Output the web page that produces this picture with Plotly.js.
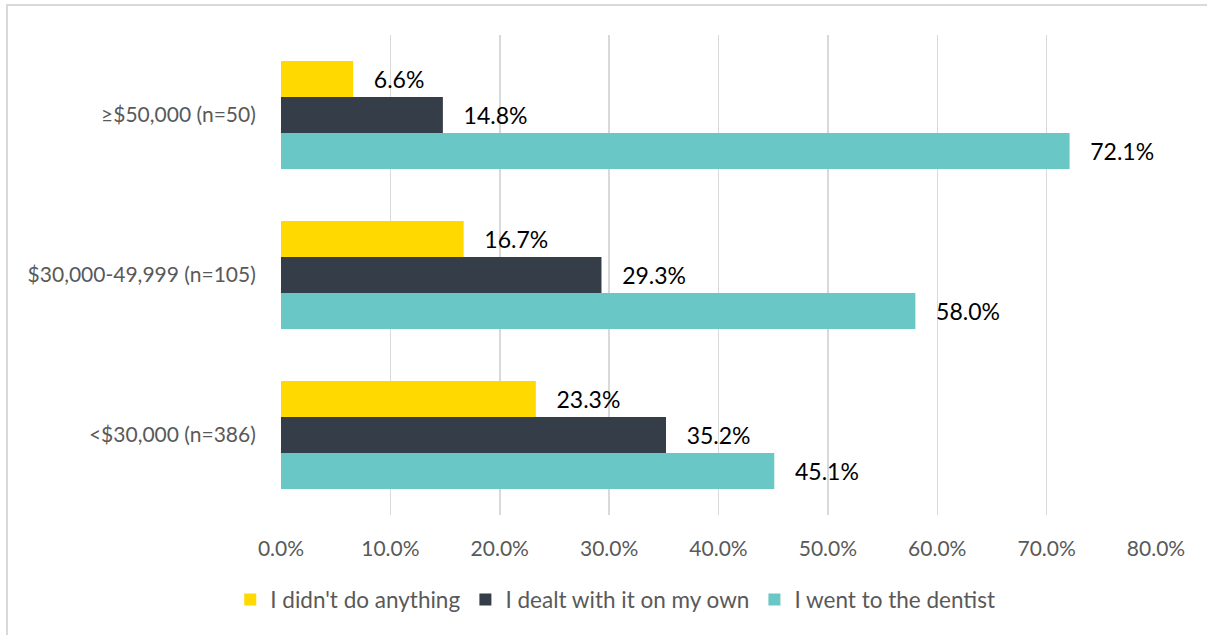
<!DOCTYPE html>
<html>
<head>
<meta charset="utf-8">
<script src="https://cdn.plot.ly/plotly-3.0.1.min.js"></script>
<style>
html,body{margin:0;padding:0;background:#fff;}
#wrap{position:relative;width:1207px;height:635px;overflow:hidden;}
#chart{width:1207px;height:635px;}
#frame{position:absolute;left:6px;top:4px;width:1300px;height:700px;border-left:2px solid #D9D9D9;border-top:2px solid #D9D9D9;pointer-events:none;}
</style>
</head>
<body>
<div id="wrap"><div id="chart"></div><div id="frame"></div></div>
<script>
const categories = ['≥$50,000 (n=50)', '$30,000-49,999 (n=105)', '<$30,000 (n=386)'];
const seriesNames = ["I didn't do anything", 'I dealt with it on my own', 'I went to the dentist'];
const didNothing = [6.6, 16.7, 23.3];
const onMyOwn = [14.8, 29.3, 35.2];
const wentDentist = [72.1, 58.0, 45.1];
const xTickValues = [0, 10, 20, 30, 40, 50, 60, 70, 80];
const xTickLabels = xTickValues.map(v => v.toFixed(1) + '%');

const colors = ['#FFD900', '#343D48', '#69C8C6'];
const values = [didNothing, onMyOwn, wentDentist];

const traces = values.map((v, i) => ({
  type: 'bar',
  orientation: 'h',
  name: seriesNames[i],
  legendgroup: 'g' + i,
  y: categories,
  x: v,
  marker: {color: colors[i], line: {width: 0}},
  texttemplate: '\u00a0\u00a0\u00a0%{x:.1f}%',
  textposition: 'outside',
  constraintext: 'none',
  cliponaxis: false,
  textfont: {family: 'Lato, sans-serif', size: 23, color: '#000000'},
  hoverinfo: 'none'
}));

const layout = {
  width: 1207, height: 635,
  paper_bgcolor: '#ffffff', plot_bgcolor: '#ffffff',
  margin: {l: 281, r: 51, t: 35, b: 120},
  barmode: 'group',
  bargap: 0.325,
  bargroupgap: 0,
  font: {family: 'Lato, sans-serif', color: '#595959'},
  xaxis: {
    range: [0, 80],
    tickmode: 'array',
    tickvals: xTickValues,
    ticktext: xTickLabels,
    showgrid: true, gridcolor: '#D9D9D9', gridwidth: 1.5,
    zeroline: false, showline: false,
    ticks: 'outside', ticklen: 15, tickcolor: 'rgba(0,0,0,0)',
    tickfont: {family: 'Lato, sans-serif', size: 21, color: '#595959'},
    fixedrange: true
  },
  yaxis: {
    autorange: 'reversed',
    type: 'category',
    showgrid: false, zeroline: false, showline: false,
    ticks: 'outside', ticklen: 20, tickcolor: 'rgba(0,0,0,0)',
    tickfont: {family: 'Lato, sans-serif', size: 21, color: '#595959'},
    fixedrange: true
  },
  showlegend: true,
  legend: {
    orientation: 'h',
    xref: 'paper', yref: 'paper',
    x: 0.382, xanchor: 'center',
    y: -0.177, yanchor: 'middle',
    font: {family: 'Lato, sans-serif', size: 22.5, color: '#595959'},
    itemwidth: 30,
    traceorder: 'grouped',
    tracegroupgap: 24
  }
};

Plotly.newPlot('chart', traces, layout, {displayModeBar: false, staticPlot: true});
</script>
</body>
</html>
